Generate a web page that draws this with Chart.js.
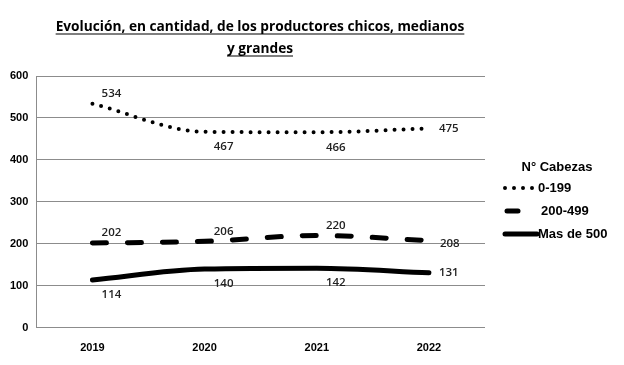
<!DOCTYPE html>
<html>
<head>
<meta charset="utf-8">
<script src="https://cdn.jsdelivr.net/npm/chart.js@4.4.0/dist/chart.umd.min.js"></script>
<style>
  html, body { margin: 0; padding: 0; background: #fff; }
  #wrap { width: 624px; height: 365px; position: relative; }
</style>
</head>
<body>
<div id="wrap"><canvas id="chart" width="624" height="365"></canvas></div>
<script>
const titleLines = ['Evolución, en cantidad, de los productores chicos, medianos', 'y grandes']
const legendTitle = 'N° Cabezas'
const years = ['2019', '2020', '2021', '2022']
const seriesNames = ['0-199', '200-499', 'Mas de 500']
const chicos = [534, 467, 466, 475]
const medianos = [202, 206, 220, 208]
const grandes = [114, 140, 142, 131]

// where each value label sits relative to its point
const labelSpots = [
  ['above', 'below', 'below', 'right'],
  ['above', 'above', 'above', 'rightLow'],
  ['below', 'below', 'below', 'right']
]

const extras = {
  id: 'extras',
  afterDraw(chart) {
    const ctx = chart.ctx
    const area = chart.chartArea
    ctx.save()

    // title, underlined
    ctx.fillStyle = '#000'
    ctx.strokeStyle = '#000'
    ctx.font = 'bold 13.7px "Open Sans", sans-serif'
    ctx.textAlign = 'center'
    ctx.textBaseline = 'alphabetic'
    const cx = 260
    titleLines.forEach((t, i) => {
      const y = 31 + i * 22
      ctx.fillText(t, cx, y)
      const w = ctx.measureText(t).width
      ctx.lineWidth = 1.2
      ctx.beginPath()
      ctx.moveTo(cx - w / 2, y + 3)
      ctx.lineTo(cx + w / 2, y + 3)
      ctx.stroke()
    })

    // value labels
    ctx.font = '600 11.5px "Open Sans", sans-serif'
    ctx.fillStyle = '#222'
    chart.data.datasets.forEach((ds, di) => {
      const meta = chart.getDatasetMeta(di)
      meta.data.forEach((pt, i) => {
        const spot = labelSpots[di][i]
        let x = pt.x + 19, y = pt.y
        ctx.textAlign = 'center'
        ctx.textBaseline = 'middle'
        if (spot === 'above') y = pt.y - 10
        if (spot === 'below') y = pt.y + 15
        if (spot === 'right') { x = pt.x + 10; ctx.textAlign = 'left' }
        if (spot === 'rightLow') { x = pt.x + 11; y = pt.y + 3; ctx.textAlign = 'left' }
        ctx.fillText(String(ds.data[i]), x, y)
      })
    })

    // legend
    const lx = area.right + 18
    ctx.font = 'bold 13px "Liberation Sans", Arial, sans-serif'
    ctx.fillStyle = '#000'
    ctx.textAlign = 'center'
    ctx.textBaseline = 'middle'
    ctx.fillText(legendTitle, lx + 54, 167)
    ctx.textAlign = 'left'
    chart.data.datasets.forEach((ds, di) => {
      const y = 188 + di * 23
      ctx.save()
      ctx.strokeStyle = '#000'
      ctx.lineWidth = ds.borderWidth
      ctx.lineCap = ds.borderCapStyle
      ctx.setLineDash(di === 1 ? [] : (ds.borderDash || []))
      ctx.beginPath()
      if (di === 1) {
        ctx.moveTo(lx + 4, y); ctx.lineTo(lx + 15, y)
      } else {
        ctx.moveTo(lx + 2, y); ctx.lineTo(lx + 34, y)
      }
      ctx.stroke()
      ctx.restore()
      ctx.fillText(ds.label, lx + (di === 1 ? 38 : 35), y)
    })
    ctx.restore()
  }
}

new Chart(document.getElementById('chart'), {
  type: 'line',
  data: {
    labels: years,
    datasets: [{
      label: seriesNames[0],
      data: chicos,
      borderColor: '#000',
      borderWidth: 4,
      borderDash: [0, 9],
      borderCapStyle: 'round',
      cubicInterpolationMode: 'monotone',
      pointRadius: 0
    }, {
      label: seriesNames[1],
      data: medianos,
      borderColor: '#000',
      borderWidth: 5,
      borderDash: [14, 21],
      borderCapStyle: 'round',
      cubicInterpolationMode: 'monotone',
      pointRadius: 0
    }, {
      label: seriesNames[2],
      data: grandes,
      borderColor: '#000',
      borderWidth: 5,
      borderCapStyle: 'round',
      cubicInterpolationMode: 'monotone',
      pointRadius: 0
    }]
  },
  options: {
    responsive: false,
    animation: false,
    layout: { padding: { top: 76, right: 139, left: 2, bottom: -4 } },
    plugins: {
      legend: { display: false },
      title: { display: false },
      tooltip: { enabled: false }
    },
    scales: {
      x: {
        offset: true,
        grid: { display: false, drawTicks: false },
        border: { display: false },
        ticks: { color: '#000', padding: 14, font: { family: 'Liberation Sans', size: 11, weight: 'bold' } }
      },
      y: {
        min: 0,
        max: 600,
        ticks: { stepSize: 100, color: '#000', padding: 8, font: { family: 'Liberation Sans', size: 11, weight: 'bold' } },
        grid: { color: '#8c8c8c', lineWidth: 1, drawTicks: false },
        border: { display: true, color: '#8c8c8c' }
      }
    }
  },
  plugins: [extras]
})
</script>
</body>
</html>
